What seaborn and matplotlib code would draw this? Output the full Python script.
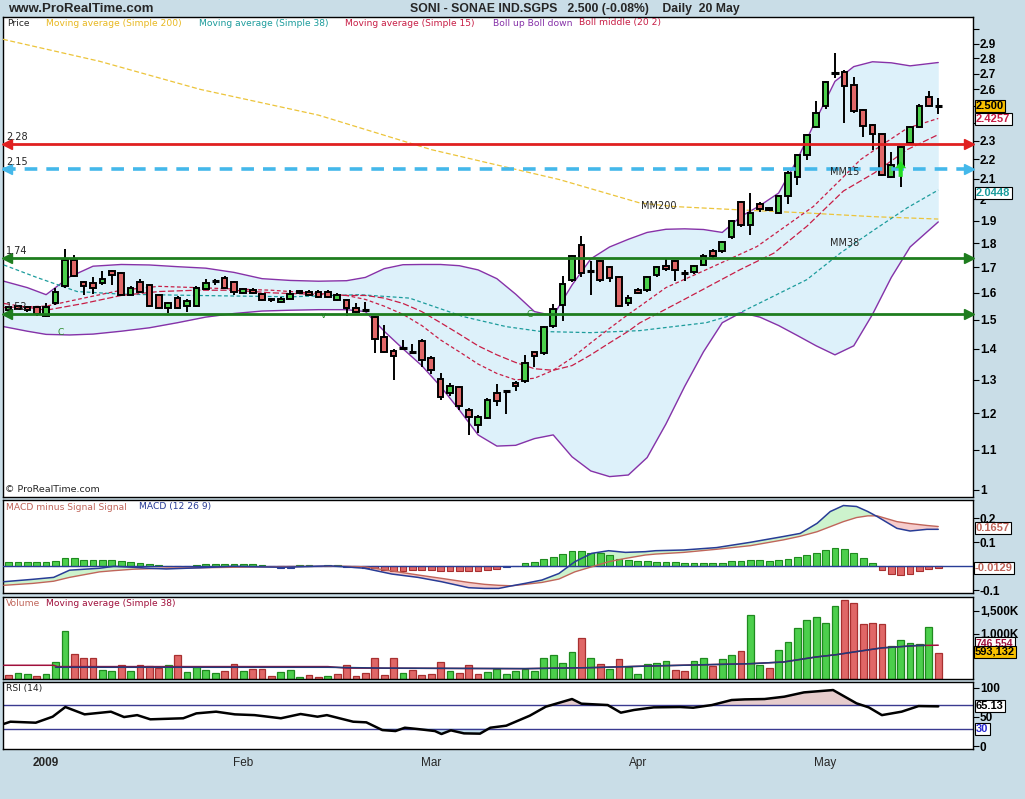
import numpy as np
import matplotlib
matplotlib.use("Agg")
import matplotlib.pyplot as plt
from matplotlib.ticker import NullLocator
import seaborn as sns

sns.set_style("white")
plt.rcParams['font.family'] = ['DejaVu Sans']

# ---------------- data ----------------
month_labels = ["2009", "Feb", "Mar", "Apr", "May"]
month_pos = [4, 25, 45, 67, 87]

opens = [1.535, 1.55, 1.545, 1.545, 1.515, 1.56, 1.627, 1.729, 1.64, 1.637,
         1.638, 1.684, 1.677, 1.593, 1.64, 1.63, 1.593, 1.543, 1.58, 1.549,
         1.551, 1.614, 1.644, 1.656, 1.64, 1.60, 1.612, 1.596, 1.576, 1.565,
         1.578, 1.607, 1.604, 1.604, 1.604, 1.574, 1.574, 1.543, 1.537, 1.511,
         1.44, 1.394, 1.403, 1.391, 1.428, 1.371, 1.304, 1.26, 1.277, 1.21,
         1.168, 1.188, 1.26, 1.266, 1.29, 1.295, 1.388, 1.386, 1.477, 1.556,
         1.648, 1.794, 1.684, 1.725, 1.70, 1.66, 1.56, 1.612, 1.61, 1.67,
         1.706, 1.727, 1.678, 1.68, 1.711, 1.766, 1.768, 1.83, 1.988, 1.883,
         1.976, 1.96, 1.936, 2.016, 2.11, 2.224, 2.377, 2.50, 2.703, 2.713,
         2.63, 2.474, 2.39, 2.335, 2.11, 2.164, 2.287, 2.377, 2.554, 2.50]
highs = [1.55, 1.555, 1.55, 1.55, 1.563, 1.62, 1.775, 1.75, 1.645, 1.66,
         1.684, 1.69, 1.68, 1.625, 1.655, 1.635, 1.595, 1.565, 1.588, 1.575,
         1.625, 1.653, 1.655, 1.665, 1.645, 1.618, 1.62, 1.60, 1.58, 1.585,
         1.61, 1.612, 1.61, 1.61, 1.61, 1.60, 1.578, 1.56, 1.565, 1.515,
         1.483, 1.40, 1.431, 1.417, 1.432, 1.375, 1.322, 1.29, 1.28, 1.215,
         1.195, 1.245, 1.287, 1.266, 1.295, 1.38, 1.39, 1.48, 1.559, 1.664,
         1.75, 1.834, 1.725, 1.73, 1.705, 1.665, 1.59, 1.62, 1.665, 1.705,
         1.738, 1.73, 1.69, 1.71, 1.755, 1.775, 1.812, 1.905, 1.99, 2.03,
         1.985, 1.965, 2.02, 2.14, 2.23, 2.34, 2.526, 2.65, 2.837, 2.72,
         2.677, 2.48, 2.395, 2.34, 2.24, 2.27, 2.38, 2.51, 2.588, 2.548]
lows = [1.525, 1.535, 1.53, 1.515, 1.51, 1.555, 1.62, 1.66, 1.593, 1.597,
        1.63, 1.63, 1.59, 1.59, 1.60, 1.545, 1.54, 1.525, 1.54, 1.53,
        1.548, 1.61, 1.63, 1.615, 1.59, 1.595, 1.595, 1.57, 1.565, 1.56,
        1.575, 1.598, 1.59, 1.58, 1.58, 1.57, 1.515, 1.525, 1.53, 1.387,
        1.385, 1.30, 1.395, 1.385, 1.34, 1.318, 1.24, 1.25, 1.21, 1.14,
        1.145, 1.185, 1.22, 1.198, 1.265, 1.29, 1.342, 1.38, 1.47, 1.495,
        1.64, 1.66, 1.593, 1.64, 1.64, 1.545, 1.55, 1.595, 1.605, 1.66,
        1.685, 1.644, 1.644, 1.675, 1.705, 1.74, 1.76, 1.82, 1.87, 1.838,
        1.94, 1.945, 1.93, 1.98, 2.07, 2.198, 2.37, 2.48, 2.67, 2.40,
        2.46, 2.32, 2.25, 2.115, 2.105, 2.06, 2.28, 2.37, 2.49, 2.45]
closes = [1.545, 1.54, 1.535, 1.52, 1.545, 1.605, 1.729, 1.664, 1.625, 1.62,
          1.653, 1.671, 1.593, 1.62, 1.605, 1.549, 1.543, 1.561, 1.543, 1.57,
          1.62, 1.638, 1.644, 1.618, 1.605, 1.614, 1.598, 1.574, 1.572, 1.578,
          1.596, 1.60, 1.593, 1.585, 1.585, 1.593, 1.543, 1.53, 1.537, 1.434,
          1.39, 1.375, 1.403, 1.391, 1.364, 1.331, 1.249, 1.28, 1.222, 1.19,
          1.189, 1.24, 1.237, 1.266, 1.28, 1.353, 1.377, 1.475, 1.54, 1.634,
          1.745, 1.677, 1.684, 1.65, 1.657, 1.552, 1.58, 1.60, 1.66, 1.70,
          1.693, 1.688, 1.678, 1.706, 1.748, 1.748, 1.808, 1.90, 1.88, 1.936,
          1.954, 1.95, 2.016, 2.132, 2.224, 2.33, 2.455, 2.643, 2.703, 2.62,
          2.47, 2.385, 2.335, 2.12, 2.17, 2.265, 2.376, 2.50, 2.50, 2.50]

# volume in thousands, and bar colour (g = green, r = red)
volume_k = [80, 139, 118, 74, 118, 383, 1046, 560, 471, 457,
            205, 184, 302, 184, 317, 280, 251, 317, 538, 162,
            273, 206, 140, 184, 339, 184, 228, 228, 59, 162,
            206, 52, 81, 37, 59, 102, 317, 74, 140, 471,
            96, 471, 140, 206, 96, 118, 374, 184, 140, 317,
            118, 162, 228, 103, 184, 228, 184, 457, 538, 361,
            589, 913, 471, 339, 228, 449, 273, 118, 339, 361,
            405, 206, 184, 405, 471, 287, 449, 538, 626, 1400,
            317, 251, 648, 825, 1112, 1289, 1355, 1222, 1599, 1732,
            1665, 1200, 1222, 1200, 736, 869, 803, 781, 1134, 582]
volume_col = list("rggrgggrrr"
                  "ggrgrrrgrg"
                  "gggrrgrrrg"
                  "ggrrgrrrrr"
                  "rrgrrrrgrr"
                  "rggggggggg"
                  "grgrgrgggg"
                  "grrggrggrg"
                  "grgggggggr"
                  "rrrrgggggr")

vol_ma_idx = [-0.5, 4.8, 5.2, 34, 36, 55, 62, 68.3, 79, 82.5, 86, 88.2, 89.6, 93, 96.7, 99]
vol_ma_k = [302, 302, 273, 273, 240, 228, 250, 286, 337, 374, 485, 537, 582, 685, 736, 744]
vol_ma2_idx = [5, 34, 40, 55, 62, 68.3, 79, 82.5, 86, 88.2, 89.6, 93, 96.7, 97.6]
vol_ma2_k = [258, 258, 240, 228, 250, 286, 337, 374, 485, 537, 582, 685, 736, 742]

# Bollinger bands (20, 2)
band_idx = [-0.5, 2, 4, 6.5, 9, 12, 15, 18, 21, 24, 27, 30, 33, 36, 38, 40, 42, 44, 46, 48,
            50, 52, 54, 56, 58, 60, 62, 64, 66, 68, 70, 72, 74, 76, 78, 80, 82, 84, 86, 88,
            90, 92, 94, 96, 99]
boll_up = [1.645, 1.62, 1.593, 1.662, 1.705, 1.712, 1.71, 1.703, 1.697, 1.68, 1.655, 1.648,
           1.645, 1.647, 1.66, 1.695, 1.711, 1.712, 1.712, 1.707, 1.69, 1.655, 1.595, 1.53,
           1.515, 1.63, 1.735, 1.785, 1.818, 1.848, 1.862, 1.864, 1.861, 1.848, 1.92, 1.97,
           2.03, 2.20, 2.42, 2.65, 2.745, 2.777, 2.77, 2.75, 2.772]
boll_down = [1.476, 1.46, 1.449, 1.447, 1.45, 1.46, 1.472, 1.49, 1.51, 1.523, 1.532, 1.535,
             1.537, 1.537, 1.53, 1.46, 1.40, 1.345, 1.28, 1.21, 1.14, 1.11, 1.112, 1.13,
             1.14, 1.082, 1.046, 1.032, 1.036, 1.08, 1.17, 1.28, 1.39, 1.49, 1.526, 1.51,
             1.48, 1.445, 1.41, 1.38, 1.41, 1.52, 1.66, 1.785, 1.895]
boll_mid_idx = [-0.5, 4, 8, 12, 16, 20, 24, 28, 32, 36, 38, 40, 42, 44, 46, 48, 50, 52, 54,
                56, 58, 60, 62, 64, 66, 67.2, 71.9, 77.9, 81.5, 85, 88.9, 92.2, 95.7, 99]
boll_mid = [1.56, 1.535, 1.56, 1.59, 1.605, 1.61, 1.61, 1.60, 1.595, 1.59, 1.59, 1.58, 1.56,
            1.53, 1.49, 1.45, 1.41, 1.38, 1.355, 1.335, 1.33, 1.345, 1.38, 1.42, 1.46,
            1.489, 1.574, 1.691, 1.759, 1.875, 2.04, 2.13, 2.252, 2.334]

ma15_idx = [-0.5, 4, 8, 12, 16, 20, 24, 28, 32, 36, 38, 40, 42, 44, 46, 48, 50, 52, 54, 56,
            58, 60, 62, 64, 66, 67.2, 70, 74.3, 79.7, 85.7, 88.6, 90.7, 92.8, 95.7, 99]
ma15 = [1.545, 1.55, 1.58, 1.61, 1.625, 1.62, 1.615, 1.61, 1.60, 1.59, 1.575, 1.55, 1.52,
        1.48, 1.43, 1.39, 1.35, 1.32, 1.30, 1.305, 1.33, 1.37, 1.42, 1.47, 1.52, 1.549,
        1.62, 1.691, 1.787, 1.966, 2.096, 2.198, 2.27, 2.37, 2.4257]
ma38_idx = [-0.5, 3, 7.3, 12, 20, 30, 37.4, 42.7, 48.4, 53, 56.7, 62, 67.2, 74.3, 77.9,
            81.5, 85, 88.6, 92.2, 95.7, 99]
ma38 = [1.71, 1.66, 1.605, 1.595, 1.59, 1.585, 1.593, 1.58, 1.512, 1.476, 1.459, 1.455,
        1.462, 1.49, 1.526, 1.588, 1.651, 1.76, 1.86, 1.96, 2.0448]
ma200_idx = [-0.6, 9.7, 20.4, 33, 45, 58.7, 67.2, 70.8, 78, 85, 92, 99]
ma200 = [2.93, 2.78, 2.60, 2.445, 2.252, 2.096, 1.983, 1.966, 1.95, 1.936, 1.919, 1.908]

levels = [2.28, 2.15, 1.74, 1.52]

# MACD (12 26 9)
macd_idx = [-0.5, 2.6, 4.8, 6.5, 9.7, 11.2, 13.3, 15, 16.8, 20.4, 23.9, 29.2, 34.2, 35.8,
            37.9, 40.8, 43.6, 46.1, 49, 50.7, 52.2, 53.6, 55, 56.8, 58.6, 60.3, 62.1, 63.9,
            65.7, 67.8, 68.9, 71.9, 75.4, 79, 82.5, 84.3, 86.1, 87.5, 88.9, 90.3, 91.5, 92.5,
            94.6, 96, 97.8, 99]
macd_line = [-0.064, -0.054, -0.046, -0.016, -0.008, 0.0, -0.004, -0.008, -0.011, -0.006,
             0.0, -0.004, 0.002, -0.002, -0.008, -0.032, -0.046, -0.064, -0.089, -0.092,
             -0.092, -0.081, -0.071, -0.057, -0.03, 0.019, 0.054, 0.065, 0.058, 0.061, 0.065,
             0.068, 0.078, 0.10, 0.124, 0.137, 0.179, 0.228, 0.253, 0.249, 0.228, 0.207,
             0.158, 0.147, 0.154, 0.154]
signal_line = [-0.079, -0.071, -0.062, -0.046, -0.023, -0.018, -0.012, -0.010, -0.007,
               -0.006, -0.004, -0.001, 0.0, 0.0, -0.002, -0.019, -0.036, -0.05, -0.067,
               -0.075, -0.079, -0.081, -0.075, -0.067, -0.053, -0.023, -0.002, 0.019, 0.033,
               0.047, 0.051, 0.058, 0.071, 0.086, 0.11, 0.125, 0.144, 0.165, 0.186, 0.203,
               0.21, 0.21, 0.186, 0.178, 0.17, 0.1657]
macd_hist = [0.017, 0.017, 0.017, 0.017, 0.017, 0.022, 0.033, 0.033, 0.028, 0.028,
             0.025, 0.025, 0.021, 0.018, 0.0125, 0.008, 0.004, 0.001, 0.0, 0.0,
             0.004, 0.008, 0.008, 0.008, 0.008, 0.008, 0.008, 0.004, 0.0, -0.005,
             -0.005, 0.004, 0.004, 0.0, 0.004, 0.004, -0.004, -0.002, -0.005, -0.008,
             -0.015, -0.019, -0.019, -0.015, -0.015, -0.015, -0.019, -0.019, -0.019, -0.019,
             -0.019, -0.015, -0.011, -0.003, 0.0, 0.0125, 0.018, 0.029, 0.038, 0.05,
             0.0625, 0.0625, 0.057, 0.054, 0.046, 0.032, 0.025, 0.021, 0.021, 0.019,
             0.017, 0.017, 0.0125, 0.0125, 0.0125, 0.0125, 0.0125, 0.021, 0.021, 0.025,
             0.025, 0.021, 0.025, 0.029, 0.038, 0.046, 0.054, 0.067, 0.075, 0.071,
             0.054, 0.033, 0.0125, -0.017, -0.033, -0.0375, -0.033, -0.021, -0.0125, -0.008]

# RSI (14)
rsi_idx = [-0.55, 0.2, 2.9, 4.7, 6.05, 8.1, 10.9, 12.3, 13.7, 15.1, 18.6, 20, 22.1, 24.1,
           26.2, 29, 31.1, 32.9, 33.9, 36.7, 38.1, 39.8, 41.2, 42.2, 43.6, 45.4, 46.1, 47.1,
           48.5, 50.2, 51.3, 53, 55.5, 57.2, 60, 61, 63.8, 65.2, 66.6, 68.7, 71.5, 72.9,
           74.9, 77, 78.4, 80.5, 82.6, 84.7, 87.8, 90.3, 91.6, 93, 95.1, 96.9, 99]
rsi_val = [37.7, 41.7, 40, 50.3, 66.9, 54.3, 58.9, 49.7, 53, 45.8, 47.6, 56, 58.9, 54.3,
           53, 47.6, 54.9, 50.3, 53, 41.7, 40.6, 27.4, 25.7, 31.4, 29.1, 25.7, 20.6, 26.9,
           21.7, 21.2, 31.4, 34.9, 52, 67.4, 80.6, 72.6, 70.3, 57.2, 61.8, 66.3, 66.9, 65.7,
           70.3, 78.9, 80, 80.6, 84.6, 92, 96, 73.2, 66.3, 53, 58.9, 68.5, 68.0]

last_close, last_ma15, last_ma38 = "2.500", "2.4257", "2.0448"
last_signal, last_hist = "0.1657", "-0.0129"
last_volma, last_vol = "746,554", "593,132"
last_rsi = "65.13"

# ---------------- style ----------------
W, H = 1025, 799
BG = '#c9dde7'
GREEN = '#4ccf4c'
RED = '#e06767'
PURPLE = '#8632a8'
CRIMSON = '#c81e46'
TEAL = '#1c9c9c'
GOLD = '#ecc43a'
NAVY = '#283c96'
SALMON = '#c0655a'
AX_FONT = ['Liberation Sans', 'DejaVu Sans']

fig = plt.figure(figsize=(W / 100, H / 100), dpi=100, facecolor=BG)


def rect(x0, y0, x1, y1):
    return [x0 / W, 1 - y1 / H, (x1 - x0) / W, (y1 - y0) / H]


def ftext(xp, yp, s, **kw):
    return fig.text(xp / W, 1 - yp / H, s, **kw)


ax_p = fig.add_axes(rect(3, 17, 973, 497))
ax_m = fig.add_axes(rect(3, 500, 973, 593))
ax_v = fig.add_axes(rect(3, 597, 973, 679))
ax_r = fig.add_axes(rect(3, 682, 973, 749))

XL = (-0.59, 102.7)
for ax in (ax_p, ax_m, ax_v, ax_r):
    ax.set_facecolor('white')
    ax.set_xlim(*XL)
    for s in ax.spines.values():
        s.set_color('black')
        s.set_linewidth(1.0)
    ax.yaxis.tick_right()
    ax.tick_params(axis='y', which='major', length=4, direction='out', pad=1,
                   labelsize=8, colors='black')
    ax.set_xticks([])

idx = np.arange(len(closes))
o, h, l, c = map(np.array, (opens, highs, lows, closes))

# ---------------- price panel ----------------
ax_p.set_yscale('log')
ax_p.set_ylim(0.983, 3.09)
ax_p.fill_between(band_idx, boll_down, boll_up, color='#ddf1fa', lw=0, zorder=1)
sns.lineplot(x=band_idx, y=boll_up, ax=ax_p, color=PURPLE, lw=1.0, zorder=2)
sns.lineplot(x=band_idx, y=boll_down, ax=ax_p, color=PURPLE, lw=1.0, zorder=2)
sns.lineplot(x=ma200_idx, y=ma200, ax=ax_p, color=GOLD, lw=0.9, linestyle=(0, (4, 2)), zorder=3)
sns.lineplot(x=ma38_idx, y=ma38, ax=ax_p, color=TEAL, lw=0.9, linestyle=(0, (3, 2)), zorder=3)
sns.lineplot(x=boll_mid_idx, y=boll_mid, ax=ax_p, color=CRIMSON, lw=0.9, linestyle=(0, (5, 2)), zorder=3)
sns.lineplot(x=ma15_idx, y=ma15, ax=ax_p, color=CRIMSON, lw=0.9, linestyle=(0, (3, 2)), zorder=3)

ax_p.vlines(idx, l, h, color='black', lw=1.4, zorder=4)
up = c > o
dn = c < o
dj = c == o
ax_p.bar(idx[up], (c - o)[up], bottom=o[up], width=0.6, color=GREEN, edgecolor='black',
         linewidth=1.4, zorder=5)
ax_p.bar(idx[dn], (o - c)[dn], bottom=c[dn], width=0.6, color=RED, edgecolor='black',
         linewidth=1.4, zorder=5)
ax_p.hlines(c[dj], idx[dj] - 0.38, idx[dj] + 0.38, color='black', lw=2.2, zorder=5)

lvl_style = [('#e02020', '-', 2.0), ('#44b8ea', (0, (3.5, 2.5)), 2.6),
             ('#1e7d1e', '-', 2.0), ('#1e7d1e', '-', 2.0)]
for lv, (col, ls, lw) in zip(levels, lvl_style):
    ax_p.axhline(lv, color=col, ls=ls, lw=lw, zorder=6)
    ax_p.plot([XL[1] - 0.45], [lv], marker='>', ms=7, color=col, zorder=7, clip_on=False)
    ax_p.plot([XL[0] + 0.45], [lv], marker='<', ms=7, color=col, zorder=7, clip_on=False)
    ax_p.annotate(f"{lv:.2f}", xy=(0, lv), xycoords=('axes fraction', 'data'),
                  xytext=(2, 1.5), textcoords='offset points', fontsize=7, va='bottom',
                  zorder=8)

ax_p.annotate('', xy=(95, 2.19), xytext=(95, 2.11),
              arrowprops=dict(color='#22dd22', width=3, headwidth=8, headlength=5, lw=0),
              zorder=8)
ax_p.text(67.3, 1.97, 'MM200', fontsize=7, va='center', zorder=8)
ax_p.text(87.5, 2.137, 'MM15', fontsize=7, va='center', zorder=8)
ax_p.text(87.5, 1.803, 'MM38', fontsize=7, va='center', zorder=8)
ax_p.text(5.2, 1.455, 'C', fontsize=6.5, color='#2a8a2a', va='center')
ax_p.text(55.2, 1.52, 'C', fontsize=6.5, color='#2a8a2a', va='center')
ax_p.text(33.2, 1.515, 'v', fontsize=6.5, color='#2a8a2a', va='center')

pticks = [1, 1.1, 1.2, 1.3, 1.4, 1.5, 1.6, 1.7, 1.8, 1.9, 2, 2.1, 2.2, 2.3, 2.4, 2.5, 2.6,
          2.7, 2.8, 2.9, 3.0]
hidden_p = {2.4, 2.5, 3.0}
ax_p.set_yticks(pticks)
ax_p.set_yticklabels(['' if t in hidden_p else f"{t:g}" for t in pticks])
ax_p.yaxis.set_minor_locator(NullLocator())

# ---------------- MACD panel ----------------
hist = np.array(macd_hist)
hcol = [GREEN if v > 0 else (NAVY if v > -0.006 else RED) for v in hist]
hedge = ['#1f8a1f' if v > 0 else (NAVY if v > -0.006 else '#a83030') for v in hist]
ax_m.bar(idx, hist, width=0.72, color=hcol, edgecolor=hedge, linewidth=0.8, zorder=2)
ax_m.axhline(0, color=NAVY, lw=1.0, zorder=3)
mi = np.array(macd_idx)
ml = np.array(macd_line)
sl = np.array(signal_line)
ax_m.fill_between(mi, ml, sl, where=ml >= sl, interpolate=True, color='#cdf3cd', lw=0, zorder=1)
ax_m.fill_between(mi, ml, sl, where=ml < sl, interpolate=True, color='#f6cccc', lw=0, zorder=1)
sns.lineplot(x=macd_idx, y=signal_line, ax=ax_m, color=SALMON, lw=1.0, zorder=4)
sns.lineplot(x=macd_idx, y=macd_line, ax=ax_m, color=NAVY, lw=1.1, zorder=4)
ax_m.set_ylim(-0.111, 0.276)
ax_m.set_yticks([-0.1, 0, 0.1, 0.2])
ax_m.set_yticklabels(['-0.1', '', '0.1', '0.2'])

# ---------------- Volume panel ----------------
vol = np.array(volume_k) * 1000
vcol = [GREEN if k == 'g' else RED for k in volume_col]
vedge = ['#1f8a1f' if k == 'g' else '#a83030' for k in volume_col]
ax_v.bar(idx, vol, width=0.72, color=vcol, edgecolor=vedge, linewidth=0.9, zorder=2)
sns.lineplot(x=vol_ma_idx, y=np.array(vol_ma_k) * 1000, ax=ax_v, color='#a0103c', lw=1.1, zorder=3)
sns.lineplot(x=vol_ma2_idx, y=np.array(vol_ma2_k) * 1000, ax=ax_v, color='#203a78', lw=1.1, zorder=4)
ax_v.set_ylim(0, 1805000)
ax_v.set_yticks([500000, 1000000, 1500000])
ax_v.set_yticklabels(['', '1,000K', '1,500K'])

# ---------------- RSI panel ----------------
ri = np.array(rsi_idx)
rv = np.array(rsi_val)
ax_r.fill_between(ri, rv, 70, where=rv > 70, interpolate=True, color='#e6cccc', lw=0, zorder=1)
ax_r.fill_between(ri, rv, 30, where=rv < 30, interpolate=True, color='#c6e2f0', lw=0, zorder=1)
ax_r.axhline(70, color='#3a3a90', lw=1.0, zorder=2)
ax_r.axhline(30, color='#3a3a90', lw=1.0, zorder=2)
sns.lineplot(x=rsi_idx, y=rsi_val, ax=ax_r, color='black', lw=1.8, zorder=3)
ax_r.set_ylim(-5.1, 109.8)
ax_r.set_yticks([0, 50, 100])
ax_r.set_yticklabels(['0', '50', '100'])
ax_r.set_xticks(month_pos)
ax_r.set_xticklabels(month_labels)
ax_r.tick_params(axis='x', length=4, direction='out', pad=2, labelsize=8.5)

for ax in (ax_p, ax_m, ax_v, ax_r):
    ax.set_xlabel('')
    ax.set_ylabel('')
    for lab in ax.get_yticklabels():
        lab.set_fontweight('bold')
        lab.set_fontsize(8.5)
        lab.set_family(AX_FONT)
for lab in ax_r.get_xticklabels():
    lab.set_family(AX_FONT)
ax_r.get_xticklabels()[0].set_fontweight('bold')

# ---------------- texts ----------------
ftext(8, 9, 'www.ProRealTime.com', fontsize=9.5, fontweight='bold', va='center',
      family=AX_FONT)
ftext(575, 9, 'SONI - SONAE IND.SGPS   2.500 (-0.08%)    Daily  20 May', fontsize=8.8,
      fontweight='bold', va='center', ha='center', family=AX_FONT)

leg_fs = 6.6
ftext(7, 23, 'Price', fontsize=leg_fs, va='center')
ftext(46, 23, 'Moving average (Simple 200)', fontsize=leg_fs, color='#e8b820', va='center')
ftext(199, 23, 'Moving average (Simple 38)', fontsize=leg_fs, color=TEAL, va='center')
ftext(345, 23, 'Moving average (Simple 15)', fontsize=leg_fs, color=CRIMSON, va='center')
ftext(493, 23, 'Boll up Boll down', fontsize=leg_fs, color=PURPLE, va='center')
ftext(579, 23, 'Boll middle (20 2)', fontsize=leg_fs, color=CRIMSON, va='center')
ftext(5, 490, '\u00a9 ProRealTime.com', fontsize=6.8, va='center')

ftext(6, 507, 'MACD minus Signal Signal', fontsize=leg_fs, color=SALMON, va='center')
ftext(139, 507, 'MACD (12 26 9)', fontsize=leg_fs, color=NAVY, va='center')
ftext(6, 603, 'Volume', fontsize=leg_fs, color=SALMON, va='center')
ftext(46, 603, 'Moving average (Simple 38)', fontsize=leg_fs, color='#a0103c', va='center')
ftext(6, 689, 'RSI (14)', fontsize=leg_fs, va='center')


def tag(xp, yp, s, fc, tc, fs=8):
    ftext(xp, yp, s, fontsize=fs, fontweight='bold', color=tc, va='center', ha='left',
          family=AX_FONT,
          bbox=dict(boxstyle='square,pad=0.12', fc=fc, ec='black', lw=0.8))


tag(976, 106, last_close, '#f8c000', 'black')
tag(976, 119, last_ma15, 'white', CRIMSON)
tag(976, 193, last_ma38, 'white', TEAL)
tag(976, 528, last_signal, 'white', SALMON)
tag(975, 568, last_hist, 'white', SALMON)
tag(976, 643, last_volma, 'white', '#a0103c', fs=7.5)
tag(975, 652, last_vol, '#f8c000', 'black')
tag(976, 706, last_rsi, 'white', 'black')
tag(976, 729, '30', 'white', '#2a2ad0')

fig.savefig('out.png', dpi=100, facecolor=BG)
